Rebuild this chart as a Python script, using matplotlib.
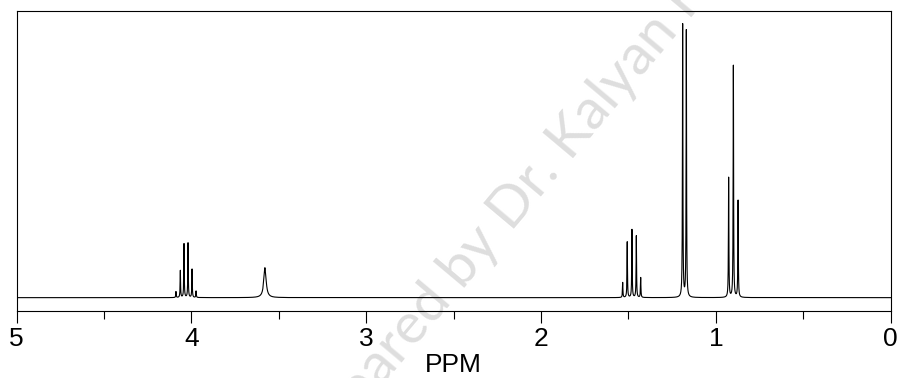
import numpy as np
import matplotlib
matplotlib.use("Agg")
import matplotlib.pyplot as plt

# peak list (ppm, relative height, half width)
peak_ppm = [4.088, 4.063, 4.042, 4.019, 3.996, 3.973,
            3.579,
            1.533, 1.507, 1.480, 1.455, 1.430,
            1.190, 1.169,
            0.927, 0.900, 0.873]
peak_height = [0.022, 0.099, 0.197, 0.200, 0.104, 0.024,
               0.110,
               0.055, 0.204, 0.249, 0.226, 0.073,
               1.000, 0.978,
               0.439, 0.850, 0.355]
peak_width = [0.0015] * 6 + [0.008] + [0.0015] * 10

major_ticks = [5, 4, 3, 2, 1, 0]
minor_ticks = [4.5, 3.5, 2.5, 1.5, 0.5]

ppm = np.linspace(0, 5, 200001)
spectrum = np.zeros_like(ppm)
for x0, h, g in zip(peak_ppm, peak_height, peak_width):
    spectrum += h * g**2 / ((ppm - x0)**2 + g**2)

plt.rcParams['font.family'] = ['Liberation Sans', 'DejaVu Sans']

fig = plt.figure(figsize=(8.98, 3.78), dpi=100)
ax = fig.add_axes([0.0184, 0.1765, 0.9735, 0.7937])
ax.patch.set_alpha(0)

# faint watermark behind the plot
fig.text(0.60, 0.535, "Prepared by Dr. Kalyan Kumar", rotation=50,
         rotation_mode='anchor', ha='center', va='center',
         fontsize=41, family='Lato', color='#dedede', zorder=-1)

ax.plot(ppm, spectrum, color='black', linewidth=0.8)

ax.set_xlim(5, 0)
ax.set_ylim(-0.05, 1.05)
ax.set_yticks([])
ax.set_xticks(major_ticks)
ax.set_xticks(minor_ticks, minor=True)
ax.set_xticklabels([str(t) for t in major_ticks])
ax.tick_params(axis='x', which='major', direction='out', length=8.6,
               width=0.8, labelsize=19, pad=3)
ax.tick_params(axis='x', which='minor', direction='out', length=5.8,
               width=0.8)
for s in ax.spines.values():
    s.set_linewidth(0.8)

ax.set_xlabel("PPM", fontsize=19, labelpad=1.5)

fig.savefig("out.png", dpi=100)
